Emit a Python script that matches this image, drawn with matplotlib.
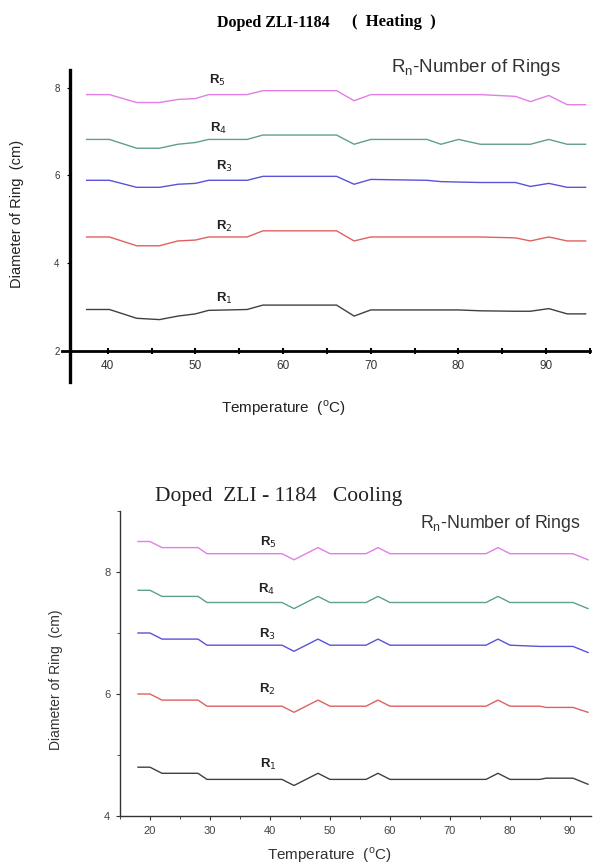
import matplotlib
matplotlib.use("Agg")
import matplotlib.pyplot as plt
from matplotlib.ticker import MultipleLocator

# ---------------- data ----------------
ring_names = ["R$_5$", "R$_4$", "R$_3$", "R$_2$", "R$_1$"]

heat_T = [37.6, 40.2, 43.3, 45.9, 48.0, 50.0, 51.5, 55.9, 57.7, 66.1, 68.1,
          70.0, 76.4, 78.0, 80.0, 82.5, 86.5, 88.2, 90.3, 92.4, 94.5]
heat_R5 = [7.84, 7.84, 7.66, 7.66, 7.73, 7.75, 7.84, 7.84, 7.93, 7.93, 7.70,
           7.84, 7.84, 7.84, 7.84, 7.84, 7.80, 7.68, 7.82, 7.61, 7.61]
heat_R4 = [6.82, 6.82, 6.62, 6.62, 6.71, 6.75, 6.82, 6.82, 6.92, 6.92, 6.71,
           6.82, 6.82, 6.71, 6.82, 6.71, 6.71, 6.71, 6.82, 6.71, 6.71]
heat_R3 = [5.89, 5.89, 5.73, 5.73, 5.80, 5.82, 5.89, 5.89, 5.98, 5.98, 5.80,
           5.91, 5.89, 5.86, 5.85, 5.84, 5.84, 5.75, 5.82, 5.73, 5.73]
heat_R2 = [4.60, 4.60, 4.40, 4.40, 4.51, 4.53, 4.60, 4.60, 4.74, 4.74, 4.51,
           4.60, 4.60, 4.60, 4.60, 4.60, 4.58, 4.51, 4.60, 4.51, 4.51]
heat_R1 = [2.95, 2.95, 2.75, 2.72, 2.80, 2.85, 2.93, 2.95, 3.05, 3.05, 2.80,
           2.94, 2.94, 2.94, 2.94, 2.92, 2.91, 2.91, 2.97, 2.85, 2.85]

cool_T = [18, 20, 22, 28, 29.5, 42, 44, 48, 50, 56, 58, 60, 76, 78, 80,
          85, 86, 90.5, 93]
cool_R5 = [8.5, 8.5, 8.4, 8.4, 8.3, 8.3, 8.2, 8.4, 8.3, 8.3, 8.4, 8.3, 8.3,
           8.4, 8.3, 8.3, 8.3, 8.3, 8.2]
cool_R4 = [7.7, 7.7, 7.6, 7.6, 7.5, 7.5, 7.4, 7.6, 7.5, 7.5, 7.6, 7.5, 7.5,
           7.6, 7.5, 7.5, 7.5, 7.5, 7.4]
cool_R3 = [7.0, 7.0, 6.9, 6.9, 6.8, 6.8, 6.7, 6.9, 6.8, 6.8, 6.9, 6.8, 6.8,
           6.9, 6.8, 6.78, 6.78, 6.78, 6.68]
cool_R2 = [6.0, 6.0, 5.9, 5.9, 5.8, 5.8, 5.7, 5.9, 5.8, 5.8, 5.9, 5.8, 5.8,
           5.9, 5.8, 5.8, 5.78, 5.78, 5.7]
cool_R1 = [4.8, 4.8, 4.7, 4.7, 4.6, 4.6, 4.5, 4.7, 4.6, 4.6, 4.7, 4.6, 4.6,
           4.7, 4.6, 4.6, 4.62, 4.62, 4.52]

heat_x_ticks = [40, 50, 60, 70, 80, 90]
heat_y_ticks = [2, 4, 6, 8]
cool_x_ticks = [20, 30, 40, 50, 60, 70, 80, 90]
cool_y_ticks = [4, 6, 8]

colors = ["#e27ee6", "#5f9f90", "#5a52d8", "#e06060", "#404040"]

# ---------------- figure ----------------
W, H = 608, 865
fig = plt.figure(figsize=(W / 100, H / 100), dpi=100)
fig.patch.set_facecolor("white")

def box(l, t, r, b):
    return [l / W, 1 - b / H, (r - l) / W, (b - t) / H]

sans = "Liberation Sans"
serif = "Liberation Serif"

# ---- top: heating ----
ax1 = fig.add_axes(box(70, 70, 590, 382))
heat_series = [heat_R5, heat_R4, heat_R3, heat_R2, heat_R1]
for ys, c in zip(heat_series, colors):
    ax1.plot(heat_T, ys, color=c, lw=1.0)
ax1.set_xlim(35.7, 95.0)
ax1.set_ylim(1.3, 8.4)
ax1.spines["top"].set_visible(False)
ax1.spines["right"].set_visible(False)
ax1.spines["bottom"].set_position(("data", 2))
ax1.spines["bottom"].set_bounds(34.8, 95.0)
ax1.spines["left"].set_linewidth(2.4)
ax1.spines["bottom"].set_linewidth(2.0)
ax1.set_xticks(heat_x_ticks)
ax1.set_yticks(heat_y_ticks)
ax1.xaxis.set_minor_locator(MultipleLocator(5))
ax1.tick_params(axis="x", which="both", direction="inout", length=5, width=1.5,
                labelsize=8.5, labelcolor="#333333", pad=4)
ax1.tick_params(axis="y", direction="out", length=2.5, width=0.8,
                labelsize=7, labelcolor="#333333", pad=5)
for lab in ax1.get_xticklabels() + ax1.get_yticklabels():
    lab.set_family(sans)
fig.text(283 / W, 1 - 408 / H, "Temperature  ($^{\\mathregular{o}}$C)",
         family=sans, fontsize=11, color="#222222", ha="center", va="center")
fig.text(17 / W, 1 - 214 / H, "Diameter of Ring  (cm)", rotation=90,
         family=sans, fontsize=10.5, color="#222222", ha="center", va="center")

heat_label_pos = [(52.5, 8.16), (52.6, 7.06), (53.3, 6.21), (53.3, 4.84), (53.3, 3.21)]
for name, (x, y) in zip(ring_names, heat_label_pos):
    ax1.text(x, y, name, family=sans, fontsize=9.5, fontweight="bold",
             ha="center", va="center", color="#222222")

fig.text(217 / W, 1 - 23 / H, "Doped ZLI-1184", family=serif,
         fontsize=11.5, fontweight="bold", ha="left", va="center")
fig.text(352 / W, 1 - 22 / H, "(  Heating  )", family=serif,
         fontsize=12, fontweight="bold", ha="left", va="center")
fig.text(391 / W, 1 - 68 / H, "R$_\\mathregular{n}$-Number of Rings", family=sans,
         fontsize=13.5, ha="left", va="center", color="#333333")

# ---- bottom: cooling ----
ax2 = fig.add_axes(box(120, 511, 591, 816))
cool_series = [cool_R5, cool_R4, cool_R3, cool_R2, cool_R1]
for ys, c in zip(cool_series, colors):
    ax2.plot(cool_T, ys, color=c, lw=1.0)
ax2.set_xlim(15, 93.5)
ax2.set_ylim(4, 9)
ax2.spines["top"].set_visible(False)
ax2.spines["right"].set_visible(False)
for s in ("left", "bottom"):
    ax2.spines[s].set_linewidth(1.0)
    ax2.spines[s].set_color("#333333")
ax2.set_xticks(cool_x_ticks)
ax2.set_yticks(cool_y_ticks)
ax2.xaxis.set_minor_locator(MultipleLocator(5))
ax2.yaxis.set_minor_locator(MultipleLocator(1))
ax2.tick_params(axis="both", which="major", direction="out", length=3, width=0.8,
                labelsize=8, labelcolor="#444444", color="#333333", pad=4)
ax2.tick_params(axis="both", which="minor", direction="out", length=2, width=0.6,
                color="#333333")
for lab in ax2.get_xticklabels() + ax2.get_yticklabels():
    lab.set_family(sans)
fig.text(329 / W, 1 - 855 / H, "Temperature  ($^{\\mathregular{o}}$C)",
         family=sans, fontsize=11, color="#333333", ha="center", va="center")
fig.text(56 / W, 1 - 680 / H, "Diameter of Ring  (cm)", rotation=90,
         family=sans, fontsize=10, color="#333333", ha="center", va="center")

cool_label_pos = [(39.7, 8.49), (39.4, 7.72), (39.6, 6.97), (39.6, 6.08), (39.7, 4.84)]
for name, (x, y) in zip(ring_names, cool_label_pos):
    ax2.text(x, y, name, family=sans, fontsize=9.5, fontweight="bold",
             ha="center", va="center", color="#222222")

fig.text(155 / W, 1 - 497 / H, "Doped  ZLI - 1184   Cooling", family=serif,
         fontsize=15.5, ha="left", va="center", color="#222222")
fig.text(420 / W, 1 - 524 / H, "R$_\\mathregular{n}$-Number of Rings", family=sans,
         fontsize=12.8, ha="left", va="center", color="#333333")

fig.savefig("out.png", dpi=100, facecolor="white")
